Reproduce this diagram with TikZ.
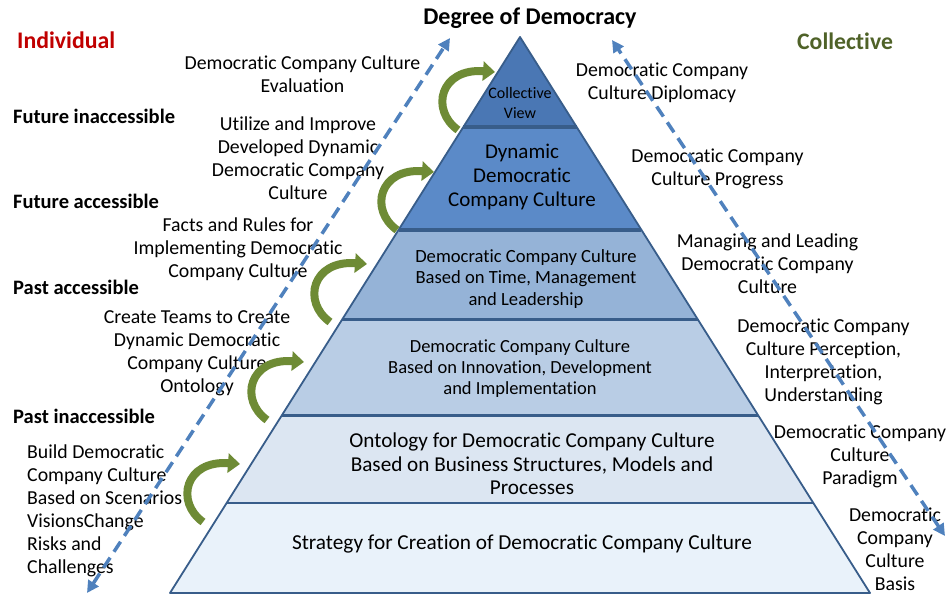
\documentclass[tikz,border=0pt]{standalone}
\usepackage{fontspec}
\setmainfont{Carlito}[Ligatures=CommonOff]
\usetikzlibrary{arrows.meta}
\usetikzlibrary{calc}
\usetikzlibrary{positioning}

\definecolor{dashblue}{HTML}{4F81BD}
\definecolor{pyrline}{HTML}{385D8A}
\definecolor{arrgreen}{HTML}{6E8B35}
\definecolor{indred}{HTML}{C00000}
\definecolor{colgreen}{HTML}{4F6228}
\definecolor{layA}{HTML}{4A77B4}
\definecolor{layB}{HTML}{5B8AC8}
\definecolor{layC}{HTML}{95B3D7}
\definecolor{layD}{HTML}{B9CDE5}
\definecolor{layE}{HTML}{DCE6F2}
\definecolor{layF}{HTML}{E9F2FA}

\begin{document}
\begin{tikzpicture}[x=1pt,y=1pt,every node/.style={inner sep=0pt},
  side/.style={font=\fontsize{19.8}{23}\selectfont,align=center},
  phase/.style={font=\fontsize{20.5}{24}\selectfont\bfseries,anchor=west},
  diag/.style={dashblue,line width=3.5pt,dash pattern=on 12pt off 7pt,{Triangle[length=12pt,width=12pt]}-{Triangle[length=12pt,width=12pt]}},
  curlarrow/.style={arrgreen,line width=8pt,-{Triangle[length=12pt,width=19pt]}}]
\useasboundingbox (0,0) rectangle (947,596);
\coordinate (apex) at (520,559);
\coordinate (bl) at (170,3);
\coordinate (br) at (870,3);

  \foreach \lo/\hi/\col in {0/0.1619/layF,0.1619/0.3201/layE,0.3201/0.4910/layD,0.4910/0.6529/layC,0.6529/0.8381/layB,0.8381/1/layA}
    \fill[\col] ($(bl)!\lo!(apex)$) -- ($(br)!\lo!(apex)$) -- ($(br)!\hi!(apex)$) -- ($(bl)!\hi!(apex)$) -- cycle;
  \draw[pyrline,line width=1.8pt,line join=round] (bl) -- (br) -- (apex) -- cycle;
  \foreach \f/\w in {0.1619/2.2pt,0.3201/3pt,0.4910/3pt,0.6529/4pt,0.8381/4pt}
    \draw[pyrline,line width=\w] ($(bl)!\f!(apex)$) -- ($(br)!\f!(apex)$);

\node[font=\fontsize{16}{20}\selectfont,align=center] (collview) at (520,493) {Collective\\View};
\node[font=\fontsize{21}{24}\selectfont,align=center] (dynamic) at (522,419) {Dynamic\\Democratic\\Company Culture};
\node[font=\fontsize{18.6}{21.5}\selectfont,align=center] (timelay) at (526,317) {Democratic Company Culture\\Based on Time, Management\\and Leadership};
\node[font=\fontsize{18.5}{21}\selectfont,align=center] (innolay) at (520,227) {Democratic Company Culture\\Based on Innovation, Development\\and Implementation};
\node[font=\fontsize{21.2}{23.5}\selectfont,align=center] (ontolay) at (532,132) {Ontology for Democratic Company Culture\\Based on Business Structures, Models and\\Processes};
\node[font=\fontsize{21.3}{24}\selectfont] (stratlay) at (522,52) {Strategy for Creation of Democratic Company Culture};

\node[font=\fontsize{24}{28}\selectfont\bfseries] (degree) at (530,578) {Degree of Democracy};
\node[font=\fontsize{23.8}{28}\selectfont\bfseries,text=indred,anchor=west] (individual) at (17,556) {Individual};
\node[font=\fontsize{23.7}{28}\selectfont\bfseries,text=colgreen,anchor=west] (collective) at (797,555) {Collective};

\node[phase] (futinacc) at (13,480) {Future inaccessible};
\node[phase] (futacc) at (13,395) {Future accessible};
\node[phase] (pastacc) at (13,309) {Past accessible};
\node[phase] (pastinacc) at (13,180) {Past inaccessible};

\node[side] (evaluation) at (302.5,521.5) {Democratic Company Culture\\Evaluation};
\node[side] (utilize) at (298,437.5) {Utilize and Improve\\Developed Dynamic\\Democratic Company\\Culture};
\node[side] (facts) at (238,347) {Facts and Rules for\\Implementing Democratic\\Company Culture};
\node[side] (teams) at (197,242.5) {Create Teams to Create\\Dynamic Democratic\\Company Culture\\Ontology};
\node[side,align=left,anchor=west] (build) at (27,85.5) {Build Democratic\\Company Culture\\Based on Scenarios\\VisionsChange\\Risks and\\Challenges};

\node[side] (diplomacy) at (662,513.5) {Democratic Company\\Culture Diplomacy};
\node[side] (progress) at (717.5,427.5) {Democratic Company\\Culture Progress};
\node[side] (managing) at (767.5,332) {Managing and Leading\\Democratic Company\\Culture};
\node[side] (perception) at (823.5,234.5) {Democratic Company\\Culture Perception,\\Interpretation,\\Understanding};
\node[side] (paradigm) at (860,140) {Democratic Company\\Culture\\Paradigm};
\node[side] (basis) at (895,46.5) {Democratic\\Company\\Culture\\Basis};

\coordinate (indlow) at (87,3);
\coordinate (indhigh) at (450,558);
\coordinate (collow) at (945,60);
\coordinate (colhigh) at (612,556);
\draw[diag] (indlow) -- (indhigh);
\draw[diag] (collow) -- (colhigh);

  %\foreach \i in {1,...,5} \draw[curlarrow] (step\i) ...;
  \foreach \bx/\by in {458/466,397/366,330/274,267/176,203/74}
    \draw[curlarrow,shift={(\bx,\by)}] (0,0) .. controls (-28,20) and (-18,62) .. (37,58);
\end{tikzpicture}
\end{document}
